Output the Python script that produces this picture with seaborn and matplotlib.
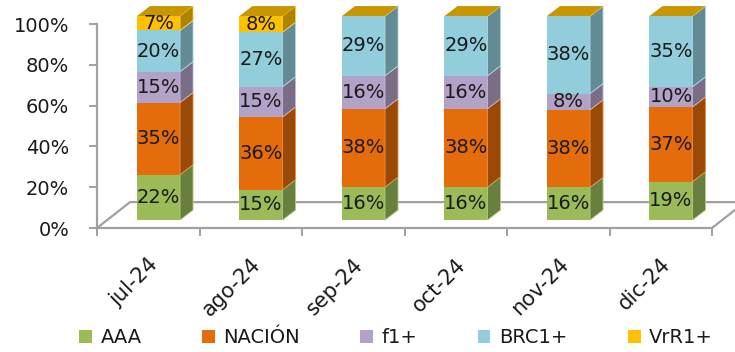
import numpy as np
import pandas as pd
import matplotlib
matplotlib.use("Agg")
import matplotlib.pyplot as plt
from matplotlib.patches import Polygon, Patch
import matplotlib.colors as mcolors
import seaborn as sns

# Monthly composition (percent of total)
meses = ["jul-24", "ago-24", "sep-24", "oct-24", "nov-24", "dic-24"]
aaa = [22, 15, 16, 16, 16, 19]
nacion = [35, 36, 38, 38, 38, 37]
f1 = [15, 15, 16, 16, 8, 10]
brc1 = [20, 27, 29, 29, 38, 35]
vrr1 = [7, 8, 0, 0, 0, 0]

series = ["AAA", "NACIÓN", "f1+", "BRC1+", "VrR1+"]
valores = [aaa, nacion, f1, brc1, vrr1]
colores = ["#9BBB59", "#E46C0A", "#B3A2C7", "#92CDDC", "#FFC000"]
y_ticks = [0, 20, 40, 60, 80, 100]


def shade(color, factor):
    r, g, b = mcolors.to_rgb(color)
    return (r * factor, g * factor, b * factor)


def tint(color, factor):
    r, g, b = mcolors.to_rgb(color)
    return (r + (1 - r) * factor, g + (1 - g) * factor, b + (1 - b) * factor)


sns.set_theme(style="white")
plt.rcParams["font.family"] = ["DejaVu Sans"]
FS = 14
TXT = "#1a1a1a"
AXC = "#a0a0a0"

# 100 % stacked: each month's segments scaled to its own total
tabla = np.array(valores, dtype=float)
alturas = tabla / tabla.sum(axis=0) * 100
acum = np.cumsum(alturas, axis=0)

fig = plt.figure(figsize=(7.35, 3.52), dpi=100)
rect = [97 / 735, 124 / 352, 615 / 735, 204 / 352]

# Front plane: value axis, category axis and floor outline
ax = fig.add_axes(rect)
ax.set_xlim(-0.5, 5.5)
ax.set_ylim(0, 100)
for s in ["top", "right"]:
    ax.spines[s].set_visible(False)
for s in ["left", "bottom"]:
    ax.spines[s].set_color(AXC)
    ax.spines[s].set_linewidth(1.6)
ax.set_yticks(y_ticks)
ax.set_yticklabels([f"{t}%" for t in y_ticks], fontsize=FS, color=TXT)
ax.tick_params(axis="y", direction="out", length=6, width=1.4, color=AXC, pad=14, left=True)
ax.set_xticks(range(len(meses)))
ax.set_xticklabels(meses, rotation=45, ha="right", rotation_mode="anchor",
                   fontsize=15, color=TXT)
ax.tick_params(axis="x", which="major", length=0, pad=19)
ax.set_xticks(np.arange(-0.5, len(meses), 1.0), minor=True)
ax.tick_params(axis="x", which="minor", direction="out", length=6, width=1.4,
               color=AXC, bottom=True)
ax.patch.set_visible(False)

fdx, fdy = 0.322, 12.7
fx = [-0.5, -0.5 + fdx, 5.5 + fdx, 5.5]
fy = [0, fdy, fdy, 0]
ax.plot(fx, fy, color=AXC, lw=1.6, clip_on=False, zorder=1)

# Bars sit set back in depth: a second axes with a shifted frame
bx = fig.add_axes(rect)
bx.patch.set_visible(False)
for i in reversed(range(len(series))):
    sns.barplot(x=meses, y=acum[i], order=meses, color=colores[i], saturation=1,
                width=0.42, errorbar=None, linewidth=0, ax=bx, zorder=2)
for p in bx.patches:
    p.set_clip_on(False)
bx.set_xlim(-0.6, 5.4)
bx.set_ylim(-3.9, 96.1)
bx.axis("off")

w = 0.42
ddx, ddy = 0.127, 4.9
for j in range(len(meses)):
    base = 0.0
    right = j + w / 2
    for i in range(len(series)):
        h = alturas[i, j]
        top = base + h
        side = Polygon([(right, base), (right + ddx, base + ddy),
                        (right + ddx, top + ddy), (right, top)],
                       closed=True, facecolor=shade(colores[i], 0.68),
                       edgecolor=tint(colores[i], 0.25), linewidth=0.6,
                       clip_on=False, zorder=3)
        bx.add_patch(side)
        if valores[i][j] > 0:
            bx.text(j, base + h / 2, f"{valores[i][j]}%", ha="center", va="center",
                    fontsize=FS, color=TXT, zorder=5, clip_on=False)
        base = top
    cap = Polygon([(j - w / 2, base), (j - w / 2 + ddx, base + ddy),
                   (right + ddx, base + ddy), (right, base)],
                  closed=True, facecolor=shade(colores[-1], 0.78),
                  edgecolor="none", clip_on=False, zorder=3)
    bx.add_patch(cap)

handles = [Patch(facecolor=c, edgecolor="none") for c in colores]
fig.legend(handles, series, loc="center", bbox_to_anchor=(0.539, 0.04), ncol=5,
           frameon=False, fontsize=FS, handlelength=0.65, handleheight=0.65,
           handletextpad=0.45, columnspacing=3.1, labelcolor=TXT)

fig.savefig("out.png", dpi=100)
